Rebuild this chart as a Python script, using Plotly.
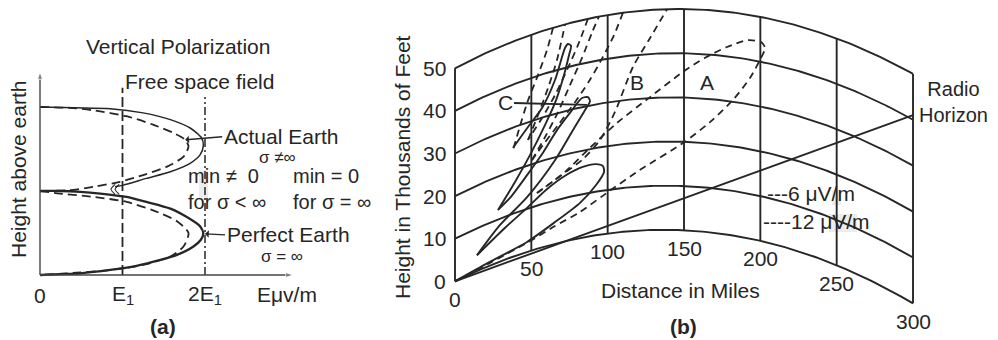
import numpy as np
import plotly.graph_objects as go

W, H = 998, 340
INK = "#262626"
FONT = "Liberation Sans, Arial, Helvetica, sans-serif"

# ---------------- Panel (a): field (units of E1) vs height (units of first-null height)
PERFECT_E = [0, 0.24, 0.49, 0.85, 1.17, 1.46, 1.66, 1.86, 1.95, 1.98, 1.94, 1.78, 1.58, 1.29, 1.05, 0.73, 0.49, 0.24, 0]
PERFECT_H = [0, 0.01, 0.02, 0.06, 0.11, 0.18, 0.24, 0.34, 0.42, 0.49, 0.58, 0.69, 0.79, 0.87, 0.93, 0.97, 0.99, 1.0, 1.0]

ACTUAL_E = [0, 0.42, 0.85, 1.25, 1.58, 1.82, 1.96, 1.98, 1.94, 1.82, 1.58, 1.29, 1.01, 0.91]
ACTUAL_H = [2.0, 1.99, 1.98, 1.93, 1.85, 1.75, 1.63, 1.54, 1.43, 1.33, 1.23, 1.15, 1.07, 1.05]

NOTCH1_E = [0.91, 0.86, 0.91]
NOTCH2_E = [0.96, 0.91, 0.96]
NOTCH_H = [1.08, 1.02, 0.96]

DASH_UPPER_E = [0, 0.36, 0.65, 1.05, 1.37, 1.62, 1.76, 1.80, 1.74, 1.54, 1.25, 0.97, 0.65, 0.36, 0]
DASH_UPPER_H = [2.0, 1.99, 1.96, 1.89, 1.79, 1.69, 1.61, 1.53, 1.41, 1.29, 1.19, 1.11, 1.05, 1.01, 1.0]
DASH_LOWER_E = [0, 0.24, 0.65, 1.05, 1.37, 1.66, 1.80, 1.74, 1.58, 1.25, 0.85, 0.49, 0]
DASH_LOWER_H = [1.0, 0.97, 0.93, 0.87, 0.77, 0.64, 0.50, 0.34, 0.22, 0.12, 0.06, 0.03, 0]

A_TICK_VALS = [0, 1, 2]
A_TICK_TEXT = ["0", "E<sub>1</sub>", "2E<sub>1</sub>"]
FREE_SPACE_E = 1.0
DOUBLE_E = 2.0
E1_LINE_TOP = 2.23
E2_LINE_TOP = 2.12
A_X_END = 3.07
A_Y_END = 2.42
ACTUAL_TIP = (1.76, 1.61)
PERFECT_TIP = (2.0, 0.49)

# ---------------- Panel (b): distance (miles) vs height (thousands of feet)
DIST_GRID = [0, 50, 100, 150, 200, 250, 300]
HEIGHT_GRID = [0, 10, 20, 30, 40, 50]

# 12 uV/m contour (solid), cusp to cusp
S1_D = [0, 21.6, 47.2, 65.5, 81.9, 92.4, 97.6, 96.9, 92.4, 83.2, 72.1, 59.6, 47.2, 32.8, 14.4]
S1_H = [0, 0.8, 2.3, 5.0, 8.1, 11.5, 14.2, 15.6, 16.3, 16.2, 15.1, 13.0, 10.2, 7.4, 3.7]
S2_D = [14.4, 29.5, 47.2, 65.5, 77.3, 85.2, 88.4, 87.1, 83.2, 75.3, 66.8, 57.6, 47.2, 36.0, 28.2]
S2_H = [3.7, 8.5, 12.7, 19.3, 25.2, 29.2, 31.0, 32.0, 32.1, 29.3, 26.1, 21.8, 17.8, 13.9, 12.2]
S3_D = [28.2, 39.3, 49.1, 59.0, 66.2, 71.4, 74.7, 76.0, 74.0, 72.1, 65.5, 57.0, 47.8, 38.0]
S3_H = [12.2, 17.2, 22.2, 28.1, 33.1, 38.4, 42.7, 44.7, 45.3, 44.6, 37.8, 32.2, 28.9, 25.3]

# 6 uV/m contour (dashed)
DA_D = [0, 22.9, 47.2, 65.5, 81.9, 98.3, 121.2, 149.3, 167.0, 182.1, 193.2, 199.8, 203.1, 200.4, 191.9, 178.2, 163.8, 149.3, 127.7, 106.1, 88.4, 72.1, 53.7]
DA_H = [0, 0.6, 2.1, 4.1, 6.0, 9.1, 13.8, 19.7, 24.8, 30.4, 35.9, 40.4, 43.3, 44.4, 44.3, 42.1, 39.2, 35.8, 30.2, 25.0, 20.3, 16.0, 12.9]
DB_LOW_D = [53.7, 68.8, 83.8, 95.0, 104.8, 116.6, 127.7, 138.9]
DB_LOW_H = [12.9, 15.3, 18.0, 21.7, 27.6, 37.4, 43.6, 50]
DB_UP_D = [110.0, 104.2, 96.9, 88.4, 78.6, 67.5, 57.6, 50.4]
DB_UP_H = [50, 45.2, 40.6, 35.9, 31.5, 27.2, 23.6, 20.9]
D3_LOW_D = [50.4, 59.0, 67.5, 75.3, 83.2, 89.7, 94.3]
D3_LOW_H = [20.9, 25.3, 30.2, 35.7, 41.3, 46.6, 50]
D3_UP_D = [87.1, 80.6, 73.4, 65.5, 57.0, 47.8]
D3_UP_H = [50, 44.5, 39.4, 34.3, 29.9, 25.9]
D4_LOW_D = [47.8, 54.4, 60.9, 66.8, 72.1]
D4_LOW_H = [25.9, 30.9, 36.4, 42.3, 50]
D4_UP_D = [64.2, 60.3, 54.4, 47.2, 38.0]
D4_UP_H = [50, 45.3, 40.2, 34.5, 24.8]

RADIO_D = [0, 300]
RADIO_H = [0, 41]
C_POINT = (86.5, 30.3)


def page_y(d, h):
    """Curved-earth chart: height h above the earth at distance d -> chart ordinate."""
    d = np.asarray(d, float)
    h = np.asarray(h, float)
    return 0.17690 * d - 0.00064723 * d ** 2 + h * (1 + 0.000258 * d)


fig = go.Figure()


def line(xs, ys, ax, width=1.8, dash=None, spline=True):
    fig.add_trace(go.Scatter(
        x=list(xs), y=list(ys), xaxis=ax[0], yaxis=ax[1], mode="lines",
        line=dict(color=INK, width=width, dash=dash,
                  shape="spline" if spline else "linear", smoothing=0.7),
        hoverinfo="skip", showlegend=False))


A = ("x", "y")
B = ("x2", "y2")
DASH_A = "9px,5px"
DASH_B = "7px,5px"

# ---- panel (a) curves
line(PERFECT_E, PERFECT_H, A, width=2.3)
line(ACTUAL_E, ACTUAL_H, A, width=1.5)
line(NOTCH1_E, NOTCH_H, A, width=1.1)
line(NOTCH2_E, NOTCH_H, A, width=1.1)
line(DASH_UPPER_E, DASH_UPPER_H, A, width=1.8, dash=DASH_A)
line(DASH_LOWER_E, DASH_LOWER_H, A, width=1.8, dash=DASH_A)
line([FREE_SPACE_E, FREE_SPACE_E], [0, E1_LINE_TOP], A, width=1.8, dash="10px,4px", spline=False)
line([DOUBLE_E, DOUBLE_E], [0, E2_LINE_TOP], A, width=1.5, dash="8px,3px,2px,3px", spline=False)

# axes with arrowheads (a)
for xs, ys in [([0, A_X_END], [0, 0]), ([0, 0], [0, A_Y_END])]:
    fig.add_trace(go.Scatter(
        x=xs, y=ys, xaxis="x", yaxis="y", mode="lines+markers",
        line=dict(color="#444", width=1.4),
        marker=dict(symbol="arrow", size=[0, 8], angleref="previous", color="#444"),
        hoverinfo="skip", showlegend=False))

# ---- panel (b) grid
dd = np.linspace(0, 300, 151)
for hgt in HEIGHT_GRID:
    line(dd, page_y(dd, hgt), B, width=1.9, spline=False)
for dist in DIST_GRID:
    line([dist, dist], [page_y(dist, 0), page_y(dist, 50)], B, width=1.9, spline=False)
line(RADIO_D, page_y(RADIO_D, RADIO_H), B, width=1.9, spline=False)

# ---- panel (b) lobes
for dl, hl in [(S1_D, S1_H), (S2_D, S2_H), (S3_D, S3_H)]:
    line(dl, page_y(dl, hl), B, width=1.9)
for dl, hl in [(DA_D, DA_H), (DB_LOW_D, DB_LOW_H), (DB_UP_D, DB_UP_H), (D3_LOW_D, D3_LOW_H),
               (D3_UP_D, D3_UP_H), (D4_LOW_D, D4_LOW_H), (D4_UP_D, D4_UP_H)]:
    line(dl, page_y(dl, hl), B, width=1.8, dash=DASH_B)


def text(t, px, py, size=21, xanchor="center", angle=0, bold=False, align="center"):
    fig.add_annotation(text=f"<b>{t}</b>" if bold else t, x=px / W, y=1 - py / H,
                       xref="paper", yref="paper", showarrow=False, xanchor=xanchor,
                       yanchor="middle", textangle=angle, align=align, borderpad=0,
                       font=dict(size=size, color=INK, family=FONT))


# ---- panel (a) texts
text("Vertical Polarization", 178, 47)
text("Free space field", 124, 81, xanchor="left")
text("σ ≠∞", 258, 157, size=17, xanchor="left")
text("min ≠\u00a0\u00a00<br>for σ < ∞", 187, 189, size=20, xanchor="left", align="left")
text("min = 0<br>for σ = ∞", 292, 189, size=20, xanchor="left", align="left")
text("σ = ∞", 260, 256, size=17, xanchor="left")
text("Eμv/m", 287, 294)
text("Height above earth", 18, 170, angle=-90)
text("(a)", 163, 326, bold=True)
for v, t in zip(A_TICK_VALS, A_TICK_TEXT):
    fig.add_annotation(text=t, x=v, y=1 - 295 / H, xref="x", yref="paper", showarrow=False,
                       font=dict(size=21, color=INK, family=FONT), yanchor="middle")

fig.add_annotation(x=ACTUAL_TIP[0], y=ACTUAL_TIP[1], xref="x", yref="y", text="Actual Earth",
                   showarrow=True, ax=37, ay=-3, xanchor="left", arrowhead=1, arrowsize=0.9,
                   arrowwidth=1.4, arrowcolor=INK, standoff=0,
                   font=dict(size=21, color=INK, family=FONT))
fig.add_annotation(x=PERFECT_TIP[0], y=PERFECT_TIP[1], xref="x", yref="y", text="Perfect Earth",
                   showarrow=True, ax=20, ay=1, xanchor="left", arrowhead=1, arrowsize=0.9,
                   arrowwidth=1.4, arrowcolor=INK, standoff=0,
                   font=dict(size=21, color=INK, family=FONT))

# ---- panel (b) texts
for hgt in HEIGHT_GRID:
    fig.add_annotation(text=str(hgt), x=0, y=float(page_y(0, hgt)), xref="x2", yref="y2",
                       showarrow=False, xanchor="right", xshift=-7,
                       font=dict(size=21, color=INK, family=FONT))
for dist in DIST_GRID:
    fig.add_annotation(text=str(dist), x=dist, y=float(page_y(dist, 0)), xref="x2", yref="y2",
                       showarrow=False, yshift=-18,
                       font=dict(size=21, color=INK, family=FONT))
text("Height in Thousands of Feet", 402, 167, angle=-90)
text("Distance in Miles", 680, 290)
text("(b)", 683, 326, bold=True)
text("Radio<br>Horizon", 953, 102, size=20)
text("B", 637, 82)
text("A", 707, 82)
text("---6 μV/m", 766, 193, xanchor="left")
text("----12 μV/m", 762, 221, xanchor="left")
fig.add_annotation(x=C_POINT[0], y=float(page_y(C_POINT[0], C_POINT[1])), xref="x2", yref="y2",
                   text="C", showarrow=True, ax=-82, ay=-2, arrowhead=0, arrowwidth=1.8,
                   arrowcolor=INK, standoff=0, font=dict(size=21, color=INK, family=FONT))

# faint correction-tape patches seen in the scan
for x0, y0, x1, y1 in [(199, 170, 208, 200), (832, 190, 841, 205), (829, 214, 857, 232)]:
    fig.add_shape(type="rect", xref="paper", yref="paper", x0=x0 / W, x1=x1 / W,
                  y0=1 - y1 / H, y1=1 - y0 / H, fillcolor="#ececec", line=dict(width=0),
                  layer="below")

fig.update_layout(
    width=W, height=H, margin=dict(l=0, r=0, t=0, b=0),
    paper_bgcolor="white", plot_bgcolor="rgba(0,0,0,0)", showlegend=False,
    hovermode=False,
    xaxis=dict(domain=[0, 369 / W], range=[-40 / 82.5, (369 - 40) / 82.5], visible=False),
    yaxis=dict(domain=[0, 1], range=[-(340 - 275) / 84, 275 / 84], visible=False),
    xaxis2=dict(domain=[380 / W, 1], range=[(380 - 455) / 1.5267, (998 - 455) / 1.5267],
                visible=False, anchor="y2"),
    yaxis2=dict(domain=[0, 1], range=[(281.3 - 340) / 4.26, 281.3 / 4.26], visible=False,
                anchor="x2"),
)

fig.write_html("out.html", config={"displayModeBar": False, "staticPlot": True},
               post_script="document.body.style.margin='0';"
               "document.body.style.overflow='hidden';")
